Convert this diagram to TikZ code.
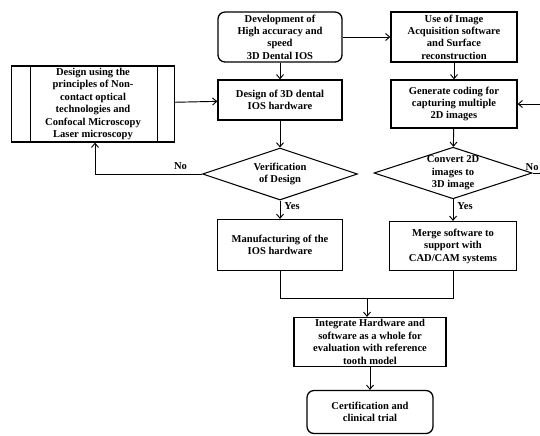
\documentclass[tikz,border=0pt]{standalone}
\usepackage{fontspec}
\setmainfont{Liberation Serif}
\usepackage{tikz}
\usetikzlibrary{arrows.meta,positioning,calc,shapes.geometric}

\begin{document}
\begin{tikzpicture}[
  x=0.03cm,y=-0.03cm,
  font=\fontsize{9}{10.6}\selectfont\bfseries,
  box/.style={draw,line width=1.1pt,align=center,inner sep=1pt},
  rbox/.style={box,rounded corners=6pt},
  dec/.style={draw,diamond,line width=0.9pt,align=center,inner sep=0pt,aspect=3},
  arr/.style={-{Straight Barb[length=3.5pt,width=6pt]},line width=0.8pt},
  lnk/.style={line width=0.8pt}
]
\useasboundingbox (0,0) rectangle (540,435);
\clip (0,0) rectangle (540,435);
\node[rbox,minimum width=3.72cm,minimum height=1.5cm] (dev) at (280,37) {Development of\\High accuracy and\\speed\\3D Dental IOS};
\node[box,minimum width=3.78cm,minimum height=1.5cm] (img) at (454,37) {Use of Image\\Acquisition software\\and Surface\\reconstruction};
\node[box,minimum width=3.72cm,minimum height=1.2cm] (hw) at (280,100) {Design of 3D dental\\IOS hardware};
\node[box,minimum width=3.78cm,minimum height=1.44cm] (code) at (454,104) {Generate coding for\\capturing multiple\\2D images};
\node[box,minimum width=4.89cm,minimum height=2.28cm] (princ) at (93,104) {Design using the\\principles of Non-\\contact optical\\technologies and\\Confocal Microscopy\\Laser microscopy};
\draw[line width=1.1pt] ([xshift=0.6cm]princ.north west) -- ([xshift=0.6cm]princ.south west);
\draw[line width=1.1pt] ([xshift=-0.54cm]princ.north east) -- ([xshift=-0.54cm]princ.south east);
\node[dec,minimum width=4.65cm,minimum height=1.56cm] (verify) at (280,174) {Verification\\of Design};
\node[dec,minimum width=4.74cm,minimum height=1.35cm] (conv) at (453,173) {Convert 2D\\images to\\3D image};
\node[box,minimum width=3.75cm,minimum height=1.53cm] (manuf) at (280,245) {Manufacturing of the\\IOS hardware};
\node[box,minimum width=3.81cm,minimum height=1.47cm] (merge) at (453,246) {Merge software to\\support with\\CAD/CAM systems};
\node[box,minimum width=4.56cm,minimum height=1.47cm] (integ) at (370,342) {Integrate Hardware and\\software as a whole for\\evaluation with reference\\tooth model};
\node[rbox,minimum width=3.78cm,minimum height=1.29cm] (cert) at (370,412) {Certification and\\clinical trial};
\coordinate (join) at (367,298);
\coordinate (back) at (549,173);
\draw[arr] (dev) -- (hw);
\draw[arr] (dev) -- (img);
\draw[arr] (princ) -- (hw);
\draw[arr] (hw) -- (verify);
\draw[arr] (img) -- (code);
\draw[arr] (code) -- (conv);
\draw[arr] (verify.west) -- node[above,pos=0.2] {No} (verify.west -| 95,0) -- (princ.south -| 95,0);
\draw[arr] (conv.east) -- (back) |- (code.east);
\node[anchor=south east,inner sep=1pt] (no2) at (540,172) {No};
\draw[arr] (verify) -- node[right,pos=0.3] {Yes} (manuf);
\draw[arr] (conv) -- node[right,pos=0.3] {Yes} (merge);
\draw[lnk] (manuf.south) |- (join) -| (merge.south);
\draw[arr] (join) -- (join |- integ.north);
\draw[arr] (integ.south -| cert.north) -- (cert);
\end{tikzpicture}
\end{document}
